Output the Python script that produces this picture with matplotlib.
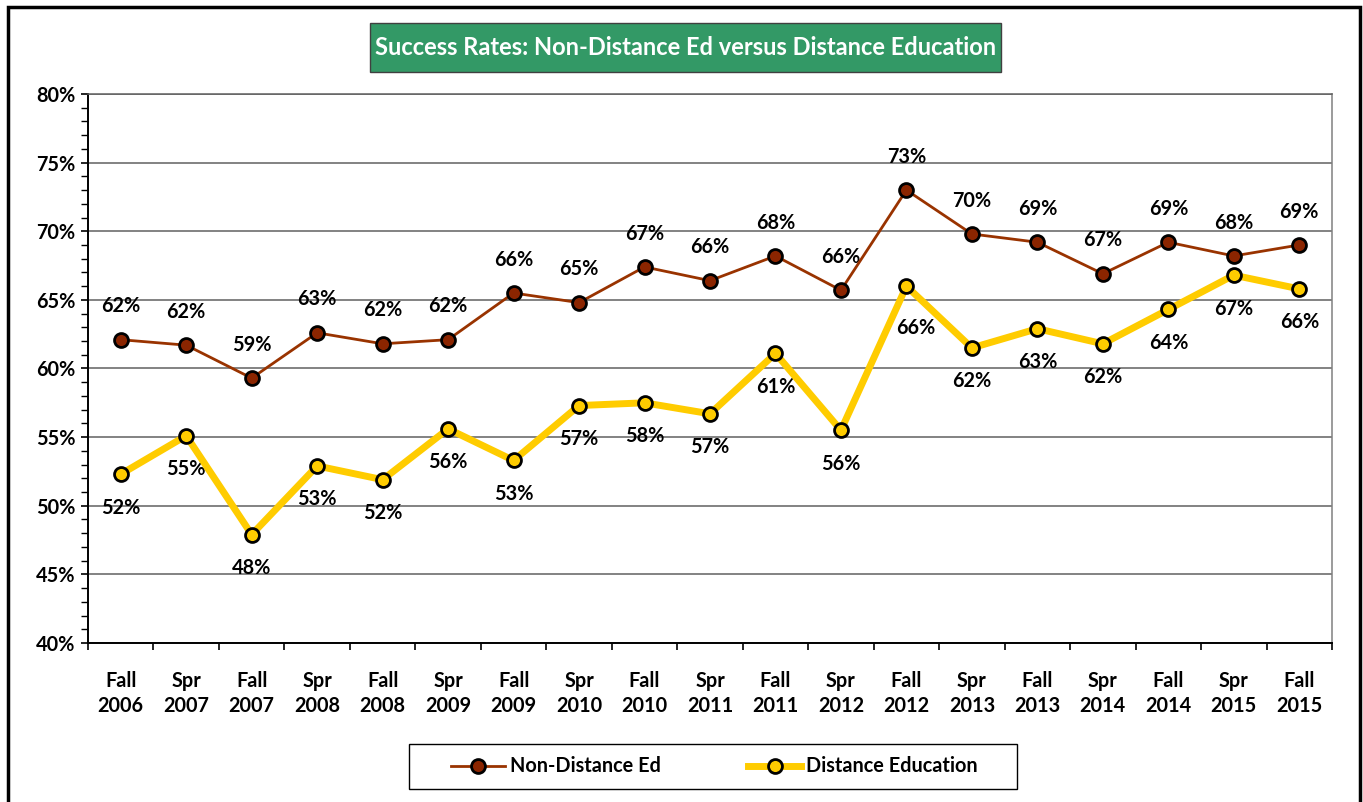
import matplotlib
matplotlib.use("Agg")
import matplotlib.pyplot as plt
from matplotlib.patches import Rectangle
from matplotlib.lines import Line2D
from matplotlib.ticker import FixedLocator, FuncFormatter

plt.rcParams['font.family'] = ['Lato', 'DejaVu Sans']
plt.rcParams['font.weight'] = 'bold'

categories = ["Fall\n2006", "Spr\n2007", "Fall\n2007", "Spr\n2008", "Fall\n2008", "Spr\n2009",
              "Fall\n2009", "Spr\n2010", "Fall\n2010", "Spr\n2011", "Fall\n2011", "Spr\n2012",
              "Fall\n2012", "Spr\n2013", "Fall\n2013", "Spr\n2014", "Fall\n2014", "Spr\n2015",
              "Fall\n2015"]
non_distance = [62.1, 61.7, 59.3, 62.6, 61.8, 62.1, 65.5, 64.8, 67.4, 66.4, 68.2, 65.7,
                73.0, 69.8, 69.2, 66.9, 69.2, 68.2, 69.0]
distance = [52.3, 55.1, 47.9, 52.9, 51.9, 55.6, 53.3, 57.3, 57.5, 56.7, 61.1, 55.5,
            66.0, 61.5, 62.9, 61.8, 64.3, 66.8, 65.8]
non_distance_labels = ["62%", "62%", "59%", "63%", "62%", "62%", "66%", "65%", "67%", "66%",
                       "68%", "66%", "73%", "70%", "69%", "67%", "69%", "68%", "69%"]
distance_labels = ["52%", "55%", "48%", "53%", "52%", "56%", "53%", "57%", "58%", "57%",
                   "61%", "56%", "66%", "62%", "63%", "62%", "64%", "67%", "66%"]
title = "Success Rates: Non-Distance Ed versus Distance Education"
series_names = ["Non-Distance Ed", "Distance Education"]

W, H = 1363, 802
fig = plt.figure(figsize=(W / 100, H / 100), dpi=100)
fig.patch.set_facecolor('white')

FS = 14.3

# outer chart border
fig.patches.append(Rectangle((8 / W, -0.05), (1360 - 8) / W, (H - 7) / H + 0.05,
                             transform=fig.transFigure, fill=False, edgecolor='black',
                             linewidth=2.5, zorder=10))

px_l, px_r, px_t, px_b = 88, 1332, 94, 643
ax = fig.add_axes([px_l / W, (H - px_b) / H, (px_r - px_l) / W, (px_b - px_t) / H])

x = list(range(len(categories)))
brown = '#993300'
yellow = '#FFCC00'

ax.plot(x, non_distance, color=brown, linewidth=2, marker='o', markersize=10,
        markerfacecolor='#8B2500', markeredgecolor='black', markeredgewidth=2, zorder=4)
ax.plot(x, distance, color=yellow, linewidth=5, marker='o', markersize=10,
        markerfacecolor=yellow, markeredgecolor='black', markeredgewidth=2, zorder=4)

for xi, v, lab in zip(x, non_distance, non_distance_labels):
    ax.annotate(lab, (xi, v), xytext=(0, 24), textcoords='offset points',
                ha='center', va='center', fontsize=FS, fontweight='bold', color='black')
# the Fall 2012 distance label is nudged aside in the original chart
nudge = {12: (7, -30)}
for xi, v, lab in zip(x, distance, distance_labels):
    off = nudge.get(xi, (0, -24))
    ax.annotate(lab, (xi, v), xytext=off, textcoords='offset points',
                ha='center', va='center', fontsize=FS, fontweight='bold', color='black')

ax.set_xlim(-0.5, len(categories) - 0.5)
ax.set_ylim(40, 80)

ax.yaxis.set_major_locator(FixedLocator(list(range(40, 81, 5))))
ax.yaxis.set_minor_locator(FixedLocator([v for v in range(40, 81) if v % 5 != 0]))
ax.yaxis.set_major_formatter(FuncFormatter(lambda v, p: f"{int(v)}%"))
ax.tick_params(axis='y', which='major', direction='out', length=5, width=1.2,
               labelsize=FS, pad=4, color='black')
ax.tick_params(axis='y', which='minor', direction='out', length=5, width=1.0, color='black')

ax.xaxis.set_major_locator(FixedLocator([i - 0.5 for i in range(len(categories) + 1)]))
ax.xaxis.set_major_formatter(FuncFormatter(lambda v, p: ""))
ax.xaxis.set_minor_locator(FixedLocator(x))
ax.set_xticklabels(categories, minor=True)
ax.tick_params(axis='x', which='major', direction='out', length=5, width=1.2, color='black')
ax.tick_params(axis='x', which='minor', length=0, labelsize=FS, pad=20)
for t in ax.get_xticklabels(minor=True) + ax.get_yticklabels():
    t.set_fontweight('bold')
    t.set_linespacing(1.35)

ax.grid(axis='y', which='major', color='#606060', linewidth=1.1, zorder=0)
ax.set_axisbelow(True)
ax.spines['left'].set_color('black')
ax.spines['left'].set_linewidth(1.4)
ax.spines['bottom'].set_color('black')
ax.spines['bottom'].set_linewidth(1.4)
ax.spines['top'].set_color('#606060')
ax.spines['top'].set_linewidth(1.1)
ax.spines['right'].set_color('#808080')
ax.spines['right'].set_linewidth(1.1)

# title box
tb_l, tb_r, tb_t, tb_b = 370, 1001, 23, 72
fig.patches.append(Rectangle((tb_l / W, (H - tb_b) / H), (tb_r - tb_l) / W, (tb_b - tb_t) / H,
                             transform=fig.transFigure, facecolor='#339966',
                             edgecolor='#404040', linewidth=1.0, zorder=5))
fig.text((tb_l + tb_r) / 2 / W, (H - (tb_t + tb_b) / 2) / H, title, ha='center', va='center',
         color='white', fontsize=17.0, fontweight='bold', zorder=6)

# legend (box drawn separately)
lg_l, lg_r, lg_t, lg_b = 409, 1017, 744, 789
fig.patches.append(Rectangle((lg_l / W, (H - lg_b) / H), (lg_r - lg_l) / W, (lg_b - lg_t) / H,
                             transform=fig.transFigure, facecolor='white',
                             edgecolor='black', linewidth=1.0, zorder=5))
handles = [Line2D([0], [0], color=brown, linewidth=2, marker='o', markersize=10,
                  markerfacecolor='#8B2500', markeredgecolor='black', markeredgewidth=2),
           Line2D([0], [0], color=yellow, linewidth=5, marker='o', markersize=10,
                  markerfacecolor=yellow, markeredgecolor='black', markeredgewidth=2)]
leg = fig.legend(handles, series_names, loc='center',
                 bbox_to_anchor=((lg_l + lg_r) / 2 / W + 1.5 / W, (H - (lg_t + lg_b) / 2) / H),
                 ncol=2, frameon=False,
                 prop={'size': FS, 'weight': 'bold'}, handlelength=2.7, handletextpad=0.25,
                 columnspacing=4.4, borderpad=0, borderaxespad=0)
leg.set_zorder(6)

fig.savefig("out.png", dpi=100, facecolor='white')
